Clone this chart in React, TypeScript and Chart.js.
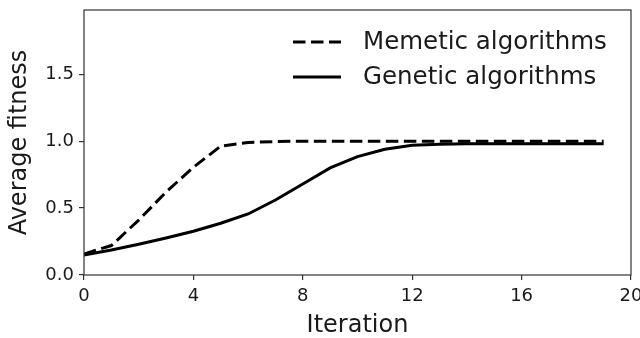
import React, { useEffect, useRef } from "react";
import { Chart, registerables } from "chart.js";

Chart.register(...registerables);

const iterations = [0, 1, 2, 3, 4, 5, 6, 7, 8, 9, 10, 11, 12, 13, 14, 15, 16, 17, 18, 19];
const memetic = [0.157, 0.22, 0.41, 0.62, 0.805, 0.963, 0.99, 0.997, 1.0, 1.0, 1.0, 1.0, 1.0, 1.0, 1.0, 1.0, 1.0, 1.0, 1.0, 1.0];
const genetic = [0.15, 0.187, 0.23, 0.277, 0.327, 0.387, 0.456, 0.56, 0.68, 0.8, 0.885, 0.94, 0.97, 0.977, 0.98, 0.98, 0.98, 0.98, 0.98, 0.98];
const seriesLabels = ["Memetic algorithms", "Genetic algorithms"];
const xTicks = [0, 4, 8, 12, 16, 20];
const yTicks = [0, 0.5, 1.0, 1.5];
const xRange = [0, 20];
const yRange = [0, 1.98];
const xTitle = "Iteration";
const yTitle = "Average fitness";

const FONT = "'DejaVu Sans', sans-serif";
const INK = "#1a1a1a";
const DASH = [12.5, 5.5];

const framePlugin = {
  id: "frameAndLegend",
  afterDraw(chart: any) {
    const { ctx, chartArea } = chart;
    ctx.save();
    ctx.strokeStyle = "#333";
    ctx.lineWidth = 1.2;
    ctx.strokeRect(chartArea.left, chartArea.top, chartArea.right - chartArea.left, chartArea.bottom - chartArea.top);

    // legend (upper right, no frame)
    const handleX0 = chartArea.right - 338;
    const handleX1 = handleX0 + 48;
    const textX = handleX0 + 70;
    const rows = [
      { y: 42, dash: DASH },
      { y: 77, dash: [] as number[] },
    ];
    chart.data.datasets.forEach((ds: any, i: number) => {
      const r = rows[i];
      ctx.beginPath();
      ctx.setLineDash(r.dash);
      ctx.lineWidth = 3;
      ctx.strokeStyle = "#000";
      ctx.moveTo(handleX0, r.y);
      ctx.lineTo(handleX1, r.y);
      ctx.stroke();
      ctx.setLineDash([]);
      ctx.fillStyle = INK;
      ctx.font = `24.5px ${FONT}`;
      ctx.textBaseline = "middle";
      ctx.textAlign = "left";
      ctx.fillText(ds.label, textX, r.y + 1);
    });
    ctx.restore();
  },
};

export default function App() {
  const ref = useRef<HTMLCanvasElement>(null);

  useEffect(() => {
    if (!ref.current) return;
    const chart = new Chart(ref.current, {
      type: "line",
      data: {
        datasets: [
          {
            label: seriesLabels[0],
            data: iterations.map((x, i) => ({ x, y: memetic[i] })),
            borderColor: "#000",
            borderWidth: 3,
            borderDash: DASH,
            pointRadius: 0,
            tension: 0,
            fill: false,
          },
          {
            label: seriesLabels[1],
            data: iterations.map((x, i) => ({ x, y: genetic[i] })),
            borderColor: "#000",
            borderWidth: 3,
            pointRadius: 0,
            tension: 0,
            fill: false,
          },
        ],
      },
      options: {
        animation: false,
        responsive: false,
        maintainAspectRatio: false,
        layout: { padding: { top: 10, right: 9, left: 0, bottom: 0 } },
        plugins: {
          legend: { display: false },
          tooltip: { enabled: false },
        },
        scales: {
          x: {
            type: "linear",
            min: xRange[0],
            max: xRange[1],
            afterBuildTicks: (s: any) => {
              s.ticks = xTicks.map((v) => ({ value: v }));
            },
            afterFit: (s: any) => {
              s.height = 63;
              s.paddingLeft = 0;
              s.paddingRight = 0;
            },
            grid: {
              display: true,
              drawOnChartArea: false,
              drawTicks: true,
              tickLength: 5,
              color: "#333",
              lineWidth: 1.2,
            },
            border: { display: false },
            ticks: {
              color: INK,
              font: { family: FONT, size: 18 },
              padding: 6,
              maxRotation: 0,
              callback: (v: any) => String(v),
            },
            title: {
              display: true,
              text: xTitle,
              color: INK,
              font: { family: FONT, size: 24 },
              padding: { top: 0, bottom: -2 },
            },
          },
          y: {
            type: "linear",
            min: yRange[0],
            max: yRange[1],
            afterBuildTicks: (s: any) => {
              s.ticks = yTicks.map((v) => ({ value: v }));
            },
            afterFit: (s: any) => {
              s.width = 84;
              s.paddingTop = 0;
              s.paddingBottom = 0;
            },
            grid: {
              display: true,
              drawOnChartArea: false,
              drawTicks: true,
              tickLength: 5,
              color: "#333",
              lineWidth: 1.2,
            },
            border: { display: false },
            ticks: {
              color: INK,
              font: { family: FONT, size: 18 },
              padding: 5,
              callback: (v: any) => Number(v).toFixed(1),
            },
            title: {
              display: true,
              text: yTitle,
              color: INK,
              font: { family: FONT, size: 24 },
              padding: { top: 5, bottom: 0 },
            },
          },
        },
      },
      plugins: [framePlugin],
    } as any);
    return () => chart.destroy();
  }, []);

  return (
    <div style={{ position: "fixed", left: 0, top: 0, width: 640, height: 338, background: "#fff" }}>
      <canvas ref={ref} width={640} height={338} style={{ width: 640, height: 338, display: "block" }} />
    </div>
  );
}
